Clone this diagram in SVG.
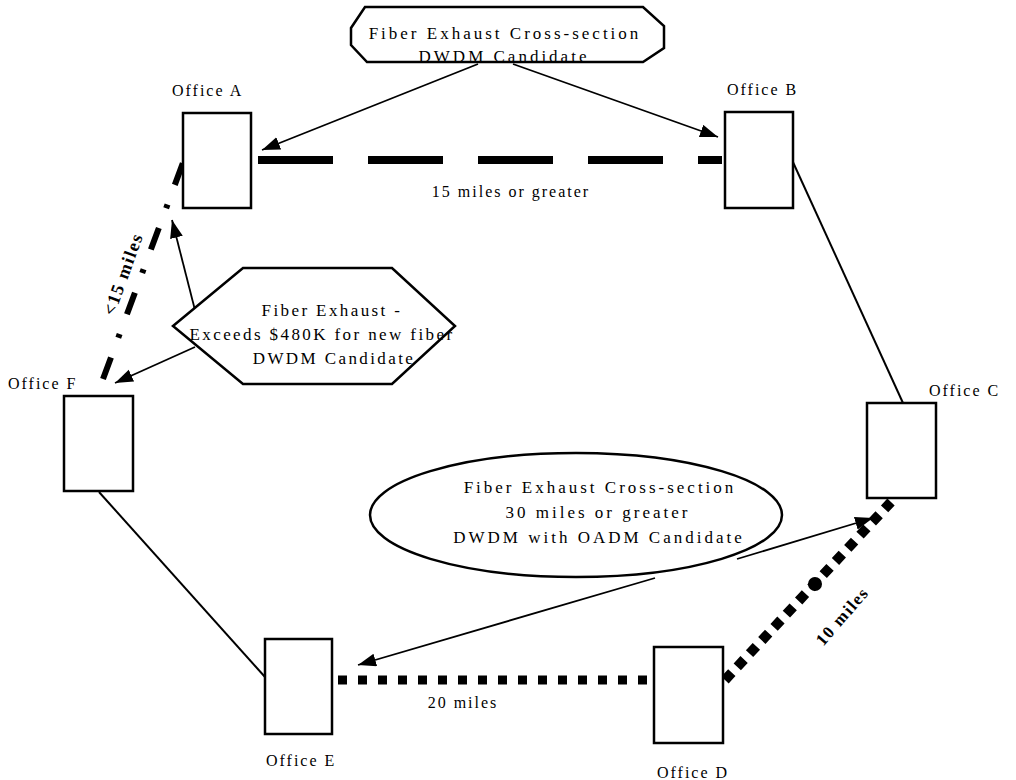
<svg xmlns="http://www.w3.org/2000/svg" width="1016" height="780" viewBox="0 0 1016 780">
<style>
text{font-family:"Liberation Serif","Times New Roman",serif;fill:#000}
.lbl{font-size:16px;letter-spacing:2px}
.call{font-size:17px;letter-spacing:3px;text-anchor:middle}
.hexc{font-size:17px;letter-spacing:2.4px;text-anchor:middle}
.rot{font-size:17px;font-weight:bold;letter-spacing:1.5px;text-anchor:middle}
.box{fill:#fff;stroke:#000;stroke-width:2.5}
.shape{fill:#fff;stroke:#000;stroke-width:2.5}
.solid{fill:none;stroke:#000;stroke-width:2}
.arrow{fill:none;stroke:#000;stroke-width:1.8;marker-end:url(#ah)}
</style>
<defs>
<marker id="ah" markerUnits="userSpaceOnUse" markerWidth="20" markerHeight="14" refX="18" refY="6.5" orient="auto">
<path d="M0,0 L18,6.5 L0,13 z" fill="#000"/>
</marker>
</defs>
<rect width="1016" height="780" fill="#fff"/>

<g id="connectors">
<line x1="258" y1="160" x2="722" y2="160" stroke="#000" stroke-width="8" stroke-dasharray="75 35"/>
<line x1="103" y1="379" x2="184" y2="160" stroke="#000" stroke-width="6" stroke-dasharray="23 21 4 21"/>
<line class="solid" x1="792" y1="160" x2="903" y2="403"/>
<line class="solid" x1="99" y1="492" x2="265" y2="677"/>
<line x1="338" y1="680" x2="650" y2="680" stroke="#000" stroke-width="9" stroke-dasharray="9 11"/>
<line x1="725" y1="680" x2="891" y2="502" stroke="#000" stroke-width="10" stroke-dasharray="10 8"/>
<circle cx="815" cy="584" r="7" fill="#000"/>
<line class="arrow" x1="478" y1="64" x2="262" y2="150"/>
<line class="arrow" x1="513" y1="64" x2="718" y2="137"/>
<line class="arrow" x1="197" y1="318" x2="172" y2="220"/>
<line class="arrow" x1="195" y1="347" x2="115" y2="383"/>
<line class="arrow" x1="737" y1="559" x2="873" y2="518"/>
<line class="arrow" x1="655" y1="578" x2="358" y2="665"/>
<text class="lbl" x="511" y="197" text-anchor="middle">15 miles or greater</text>
<text class="lbl" x="463" y="708" text-anchor="middle">20 miles</text>
<text class="rot" transform="translate(842,616) rotate(-49)" x="0" y="6">10 miles</text>
<text class="rot" transform="translate(123,274) rotate(-70)" x="0" y="6" style="font-size:18px">&lt;15 miles</text>
</g>

<g id="office-a">
<rect class="box" x="183" y="113" width="68" height="95"/>
<text class="lbl" x="172" y="96">Office A</text>
</g>
<g id="office-b">
<rect class="box" x="725" y="112" width="68" height="96"/>
<text class="lbl" x="727" y="95">Office B</text>
</g>
<g id="office-c">
<rect class="box" x="867" y="403" width="69" height="95"/>
<text class="lbl" x="929" y="396">Office C</text>
</g>
<g id="office-d">
<rect class="box" x="654" y="647" width="69" height="96"/>
<text class="lbl" x="657" y="778">Office D</text>
</g>
<g id="office-e">
<rect class="box" x="265" y="639" width="67" height="95"/>
<text class="lbl" x="266" y="766">Office E</text>
</g>
<g id="office-f">
<rect class="box" x="64" y="396" width="69" height="95"/>
<text class="lbl" x="8" y="389">Office F</text>
</g>

<g id="callout-top">
<polygon class="shape" points="365,7 643,7 664,26 664,48 643,62 367,62 351,45 351,28"/>
<text class="call" x="505" y="39">Fiber Exhaust Cross-section</text>
<text class="call" x="504" y="62">DWDM Candidate</text>
</g>
<g id="callout-hex">
<polygon class="shape" points="173,326 243,268 392,268 455,326 392,384 243,384"/>
<text class="hexc" x="332" y="316">Fiber Exhaust -</text>
<text class="hexc" x="322" y="340">Exceeds $480K for new fiber</text>
<text class="hexc" x="334" y="364">DWDM Candidate</text>
</g>
<g id="callout-ellipse">
<ellipse class="shape" cx="576" cy="515" rx="206" ry="62"/>
<text class="call" x="600" y="493">Fiber Exhaust Cross-section</text>
<text class="call" x="598" y="518">30 miles or greater</text>
<text class="call" x="599" y="543">DWDM with OADM Candidate</text>
</g>
</svg>
